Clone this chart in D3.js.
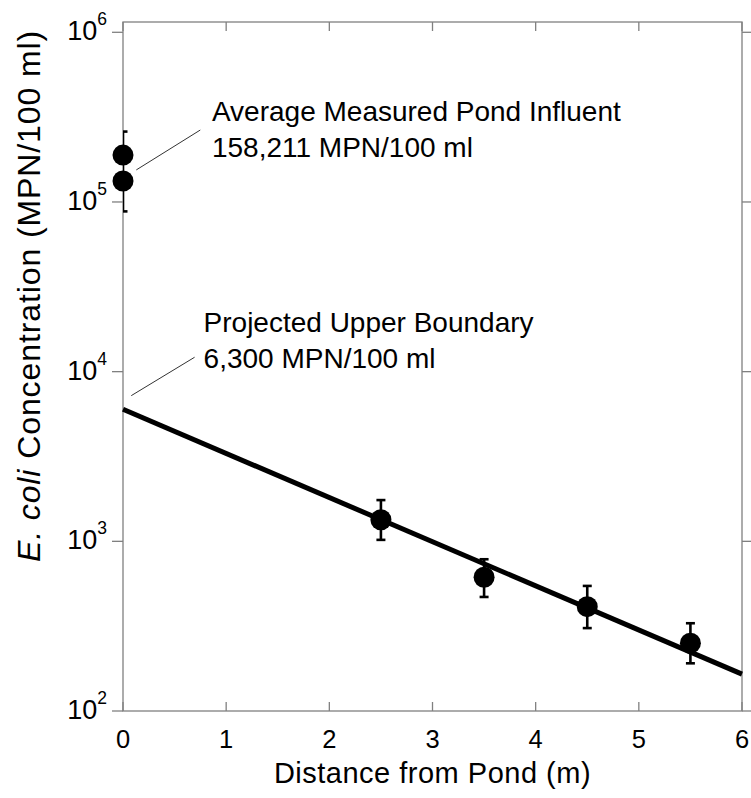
<!DOCTYPE html>
<html lang="en">
  <head>
    <meta charset="UTF-8" />
    <title>E. coli vs distance</title>
    <style>
  body { margin: 0; background: #fff; }
  svg text { font-family: "Liberation Sans", Arial, Helvetica, sans-serif; fill: #000; }
</style>
  </head>
  <body>
<div class="chart"></div>
  <script src="https://cdn.jsdelivr.net/npm/d3@7"></script>
    <script>

    var width = 751;
    var height = 798;

    var margin = { top: 22, bottom: 87, left: 123, right: 9 };

    // measured points
    var distance = [0, 0, 2.5, 3.5, 4.5, 5.5];
    var concentration = [189000, 133000, 1340, 614, 412, 251];

    // error bars
    var errDistance = [0, 2.5, 3.5, 4.5, 5.5];
    var errLow = [88000, 1020, 470, 308, 191];
    var errHigh = [260000, 1750, 784, 546, 329];

    // projected line
    var fitDistance = [0, 6];
    var fitConc = [6000, 165];

    var xTicks = [0, 1, 2, 3, 4, 5, 6];
    var yTicks = [1e2, 1e3, 1e4, 1e5, 1e6];

    // annotations (data coords)
    var noteText = [["Average Measured Pond Influent", "158,211 MPN/100 ml"],
                    ["Projected Upper Boundary", "6,300 MPN/100 ml"]];
    var noteTextPos = [[0.862, 301000], [0.781, 17200]];
    var noteLineFrom = [[0.129, 154500], [0.08, 7220]];
    var noteLineTo = [[0.749, 265500], [0.694, 12160]];

    var svg = d3.select(".chart")
        .append("svg")
        .attr("width", width)
        .attr("height", height);

    var x = d3.scaleLinear()
        .domain([0, 6])
        .range([margin.left, width - margin.right]);

    var y = d3.scaleLog()
        .domain([100, 1.15e6])
        .range([height - margin.bottom, margin.top]);

    var x0 = x.range()[0], x1 = x.range()[1];
    var yb = y.range()[0], yt = y.range()[1];

    var axisColor = "#808080";

    // frame
    svg.append("rect")
        .attr("x", x0).attr("y", yt)
        .attr("width", x1 - x0).attr("height", yb - yt)
        .attr("fill", "none")
        .attr("stroke", axisColor)
        .attr("stroke-width", 1.3);

    // ticks
    var g = svg.append("g").attr("stroke", axisColor).attr("stroke-width", 1.3);
    g.selectAll(".xtb").data(xTicks).enter().append("line")
        .attr("x1", d => x(d)).attr("x2", d => x(d))
        .attr("y1", yb).attr("y2", yb - 9);
    g.selectAll(".xtt").data(xTicks).enter().append("line")
        .attr("x1", d => x(d)).attr("x2", d => x(d))
        .attr("y1", yt).attr("y2", yt + 9);
    g.selectAll(".ytl").data(yTicks).enter().append("line")
        .attr("x1", x0 - 11).attr("x2", x0)
        .attr("y1", d => y(d)).attr("y2", d => y(d));
    g.selectAll(".ytr").data(yTicks).enter().append("line")
        .attr("x1", x1).attr("x2", x1 + 9)
        .attr("y1", d => y(d)).attr("y2", d => y(d));

    // tick labels
    svg.selectAll(".xlab").data(xTicks).enter().append("text")
        .attr("x", d => x(d))
        .attr("y", yb + 37)
        .attr("text-anchor", "middle")
        .attr("font-size", 25.5)
        .text(d => d);

    var ylab = svg.selectAll(".ylab").data(yTicks).enter().append("text")
        .attr("x", x0 - 16)
        .attr("y", d => y(d) + 8)
        .attr("text-anchor", "end")
        .attr("font-size", 27);
    ylab.append("tspan").text("10");
    ylab.append("tspan")
        .attr("font-size", 17.5)
        .attr("dy", -15)
        .text(d => Math.round(Math.log10(d)));

    // axis titles
    svg.append("text")
        .attr("x", (x0 + x1) / 2)
        .attr("y", 783)
        .attr("text-anchor", "middle")
        .attr("font-size", 29)
        .attr("letter-spacing", 0.5)
        .text("Distance from Pond (m)");

    var yt_ = svg.append("text")
        .attr("transform", "translate(40,296) rotate(-90)")
        .attr("text-anchor", "middle")
        .attr("font-size", 32)
        .attr("letter-spacing", 0.9);
    yt_.append("tspan").attr("font-style", "italic").text("E. coli");
    yt_.append("tspan").text(" Concentration (MPN/100 ml)");

    // clip for error bars
    svg.append("clipPath").attr("id", "plotclip")
        .append("rect")
        .attr("x", x0).attr("y", yt)
        .attr("width", x1 - x0).attr("height", yb - yt);

    var eb = svg.append("g")
        .attr("clip-path", "url(#plotclip)")
        .attr("stroke", "#000")
        .attr("stroke-width", 2.6);
    errDistance.forEach(function(d, i){
      eb.append("line")
        .attr("x1", x(d)).attr("x2", x(d))
        .attr("y1", y(errLow[i])).attr("y2", y(errHigh[i]));
      eb.append("line")
        .attr("x1", x(d) - 4.5).attr("x2", x(d) + 4.5)
        .attr("y1", y(errLow[i])).attr("y2", y(errLow[i]));
      eb.append("line")
        .attr("x1", x(d) - 4.5).attr("x2", x(d) + 4.5)
        .attr("y1", y(errHigh[i])).attr("y2", y(errHigh[i]));
    });

    // projected line
    var line = d3.line()
        .x(d => x(d[0]))
        .y(d => y(d[1]));
    svg.append("path")
        .datum(d3.zip(fitDistance, fitConc))
        .attr("d", line)
        .attr("fill", "none")
        .attr("stroke", "#000")
        .attr("stroke-width", 5);

    // points
    svg.selectAll(".pt")
        .data(d3.zip(distance, concentration))
        .enter()
        .append("circle")
        .attr("cx", d => x(d[0]))
        .attr("cy", d => y(d[1]))
        .attr("r", 10.5)
        .attr("fill", "#000");

    // annotations
    noteText.forEach(function(lines, i){
      svg.append("line")
        .attr("x1", x(noteLineFrom[i][0])).attr("y1", y(noteLineFrom[i][1]))
        .attr("x2", x(noteLineTo[i][0])).attr("y2", y(noteLineTo[i][1]))
        .attr("stroke", "#333")
        .attr("stroke-width", 1);
      var t = svg.append("text")
        .attr("x", x(noteTextPos[i][0]))
        .attr("y", y(noteTextPos[i][1]))
        .attr("font-size", 28);
      lines.forEach(function(s, j){
        t.append("tspan")
          .attr("x", x(noteTextPos[i][0]))
          .attr("dy", j === 0 ? 0 : 36.5)
          .text(s);
      });
    });

    </script>
  </body>
</html>
